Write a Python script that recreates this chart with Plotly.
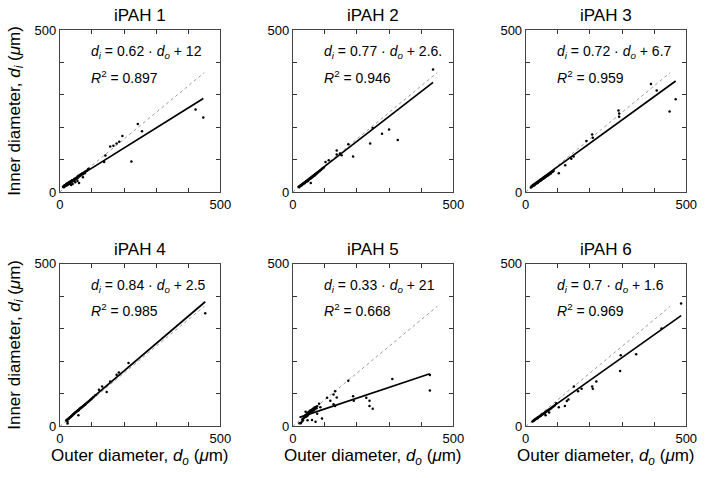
import plotly.graph_objects as go

W, H = 709, 478

titles = ["iPAH 1", "iPAH 2", "iPAH 3", "iPAH 4", "iPAH 5", "iPAH 6"]
slopes = [0.62, 0.77, 0.72, 0.84, 0.33, 0.7]
intercepts = [12, 2.6, 6.7, 2.5, 21, 1.6]
slope_labels = ["0.62", "0.77", "0.72", "0.84", "0.33", "0.7"]
intercept_labels = ["12", "2.6.", "6.7", "2.5", "21", "1.6"]
r2_labels = ["0.897", "0.946", "0.959", "0.985", "0.668", "0.969"]

tick_vals = [0, 100, 200, 300, 400, 500]
tick_text = ["0", "", "", "", "", "500"]

# dotted reference line shared by all panels
ref_x = [0, 450]
ref_slope = 0.82

x1 = [10, 12, 14, 15, 17, 18, 20, 21, 22, 24, 25, 27, 28, 30, 31, 33, 35, 36, 38, 40,
      42, 44, 45, 47, 48, 50, 52, 54, 55, 57, 58, 60, 62, 64, 65, 68, 70, 72, 75, 78,
      80, 84, 88, 90, 40, 48, 55, 60, 72, 35, 138, 142, 157, 167, 177, 185, 195, 223, 243, 256,
      423, 447]
y1 = [16, 15, 20, 18, 22, 19, 24, 20, 26, 22, 27, 24, 30, 26, 32, 28, 34, 30, 36, 33,
      37, 35, 40, 38, 42, 40, 44, 42, 47, 45, 50, 48, 52, 50, 55, 53, 58, 55, 60, 58,
      64, 66, 70, 72, 25, 30, 34, 28, 46, 22, 93, 113, 141, 143, 150, 155, 173, 94, 210, 188,
      255, 230]

x2 = [18, 20, 22, 24, 25, 27, 28, 30, 32, 34, 35, 37, 38, 40, 42, 44, 45, 47, 48, 50,
      52, 54, 55, 57, 58, 60, 62, 64, 65, 67, 68, 70, 72, 74, 75, 78, 80, 84, 88, 92,
      97, 56, 102, 112, 137, 137, 147, 152, 173, 188, 241, 249, 278, 300, 327, 437]
y2 = [16, 15, 18, 20, 19, 22, 21, 24, 25, 27, 26, 29, 28, 31, 32, 34, 33, 36, 35, 38,
      40, 41, 42, 44, 43, 46, 48, 49, 50, 52, 51, 54, 55, 57, 58, 60, 62, 65, 68, 72,
      76, 28, 93, 98, 116, 128, 119, 114, 148, 110, 150, 198, 180, 193, 161, 379]

x3 = [16, 18, 20, 22, 24, 25, 27, 28, 30, 32, 34, 35, 37, 38, 40, 42, 44, 45, 47, 48,
      50, 52, 54, 55, 57, 58, 60, 62, 64, 66, 68, 70, 72, 75, 78, 80, 84, 87,
      103, 123, 142, 149, 189, 207, 209, 289, 291, 291, 390, 408, 448, 467]
y3 = [14, 16, 17, 19, 20, 22, 21, 24, 25, 26, 28, 27, 30, 29, 32, 33, 34, 35, 37, 36,
      39, 40, 41, 42, 44, 43, 46, 47, 48, 50, 51, 52, 54, 56, 57, 60, 63, 65,
      58, 83, 103, 110, 158, 178, 168, 252, 243, 233, 334, 314, 249, 287]

x4 = [20, 22, 24, 25, 27, 28, 30, 32, 34, 35, 37, 38, 40, 42, 44, 45, 47, 48, 50, 52,
      54, 55, 57, 58, 60, 62, 64, 66, 68, 70, 72, 75, 78, 80, 84, 88, 92, 96, 100, 105,
      111, 58, 24, 122, 132, 146, 157, 177, 184, 214, 453]
y4 = [18, 20, 9, 22, 23, 24, 26, 28, 29, 31, 32, 33, 35, 37, 38, 40, 41, 42, 44, 45,
      47, 48, 50, 49, 52, 54, 55, 57, 58, 60, 62, 64, 66, 68, 72, 75, 78, 82, 86, 90,
      96, 34, 14, 113, 123, 106, 138, 159, 166, 195, 348]

x5 = [21, 25, 28, 30, 32, 34, 35, 37, 38, 40, 42, 44, 45, 46, 47, 48, 50, 52, 54, 55,
      56, 58, 60, 62, 64, 66, 68, 70, 72, 74, 76, 46, 71, 86, 76, 91, 107, 117, 127, 132,
      137, 127, 132, 173, 188, 190, 229, 239, 239, 249, 310, 427, 427, 60, 40, 82]
y5 = [10, 10, 14, 22, 18, 25, 30, 28, 33, 35, 30, 38, 40, 33, 42, 36, 45, 40, 48, 44,
      50, 46, 52, 48, 55, 50, 58, 54, 60, 56, 62, 19, 14, 59, 39, 24, 88, 79, 98, 108,
      89, 68, 63, 140, 93, 79, 88, 79, 63, 54, 146, 158, 110, 20, 45, 70]

x6 = [21, 23, 25, 27, 28, 30, 32, 34, 35, 37, 38, 40, 42, 44, 45, 47, 48, 50, 52, 54,
      55, 57, 58, 60, 62, 64, 66, 68, 70, 72, 75, 78, 82, 86, 90, 95, 62, 73,
      103, 122, 128, 133, 150, 163, 174, 207, 209, 220, 294, 296, 344, 423, 484]
y6 = [15, 17, 18, 19, 21, 22, 23, 25, 24, 27, 26, 29, 30, 31, 32, 33, 34, 36, 37, 38,
      39, 40, 41, 42, 44, 45, 47, 48, 49, 51, 53, 55, 58, 61, 64, 71, 34, 43,
      59, 63, 78, 83, 123, 108, 116, 123, 116, 138, 170, 219, 222, 301, 378]

xs = [x1, x2, x3, x4, x5, x6]
ys = [y1, y2, y3, y4, y5, y6]

# panel boxes in pixels (left, right) and (top, bottom)
cols_px = [(57, 221), (295, 459), (533, 697)]
rows_px = [(24, 191), (265, 433)]

FONT = "Liberation Sans, Arial, sans-serif"

fig = go.Figure()
annotations = []

for k in range(6):
    r, c = divmod(k, 3)
    n = "" if k == 0 else str(k + 1)
    xa, ya = "x" + n, "y" + n
    L, R = cols_px[c]
    T, B = rows_px[r]

    # dotted reference
    fig.add_trace(go.Scatter(
        x=ref_x, y=[ref_slope * v for v in ref_x], mode="lines",
        line=dict(color="#9a9a9a", width=1, dash="dot"),
        xaxis=xa, yaxis=ya, showlegend=False, hoverinfo="skip"))
    # data points
    fig.add_trace(go.Scatter(
        x=xs[k], y=ys[k], mode="markers",
        marker=dict(color="black", size=2.5),
        xaxis=xa, yaxis=ya, showlegend=False))
    # fitted line over the data range
    fx = [min(xs[k]), max(xs[k])]
    fig.add_trace(go.Scatter(
        x=fx, y=[slopes[k] * v + intercepts[k] for v in fx], mode="lines",
        line=dict(color="black", width=1.7),
        xaxis=xa, yaxis=ya, showlegend=False, hoverinfo="skip"))

    axis_common = dict(
        range=[0, 500], tickmode="array", tickvals=tick_vals, ticktext=tick_text,
        ticks="inside", ticklen=4, tickcolor="#333", tickwidth=1,
        showline=True, linecolor="#444", linewidth=1,
        mirror="ticks", showgrid=False, zeroline=False,
        tickfont=dict(family=FONT, size=13, color="black"),
    )
    fig.update_layout({
        "xaxis" + n: dict(axis_common, domain=[L / W, R / W], anchor=ya),
        "yaxis" + n: dict(axis_common, domain=[1 - B / H, 1 - T / H], anchor=xa),
    })

    eq = ("<i>d<sub>i</sub></i> = " + slope_labels[k] + " · <i>d<sub>o</sub></i> + "
          + intercept_labels[k])
    annotations.append(dict(x=92, y=432, xref=xa, yref=ya, text=eq, showarrow=False,
                            xanchor="left", yanchor="middle",
                            font=dict(family=FONT, size=14, color="black")))
    annotations.append(dict(x=92, y=357, xref=xa, yref=ya,
                            text="<i>R</i><sup>2</sup> = " + r2_labels[k], showarrow=False,
                            xanchor="left", yanchor="middle",
                            font=dict(family=FONT, size=14, color="black")))
    annotations.append(dict(x=(L + R) / 2 / W, y=1 - (T - 15) / H, xref="paper", yref="paper",
                            text=titles[k], showarrow=False, xanchor="center", yanchor="middle",
                            font=dict(family=FONT, size=17, color="black")))
    if r == 1:
        annotations.append(dict(x=(L + R) / 2 / W, y=1 - 465 / H, xref="paper", yref="paper",
                                text="Outer diameter, <i>d<sub>o</sub></i> (<i>μ</i>m)",
                                showarrow=False, xanchor="center", yanchor="middle",
                                font=dict(family=FONT, size=17, color="black")))
    if c == 0:
        annotations.append(dict(x=12 / W, y=1 - (T + B) / 2 / H, xref="paper", yref="paper",
                                text="Inner diameter, <i>d<sub>i</sub></i> (<i>μ</i>m)",
                                showarrow=False, textangle=-90, xanchor="center",
                                yanchor="middle",
                                font=dict(family=FONT, size=17, color="black")))

fig.update_layout(
    width=W, height=H, margin=dict(l=0, r=0, t=0, b=0),
    paper_bgcolor="white", plot_bgcolor="white",
    annotations=annotations, showlegend=False,
)

# drop the default page margin so the figure sits at the window's corner
fig.write_html("out.html", config={"displayModeBar": False},
               post_script="document.body.style.margin='0';")
